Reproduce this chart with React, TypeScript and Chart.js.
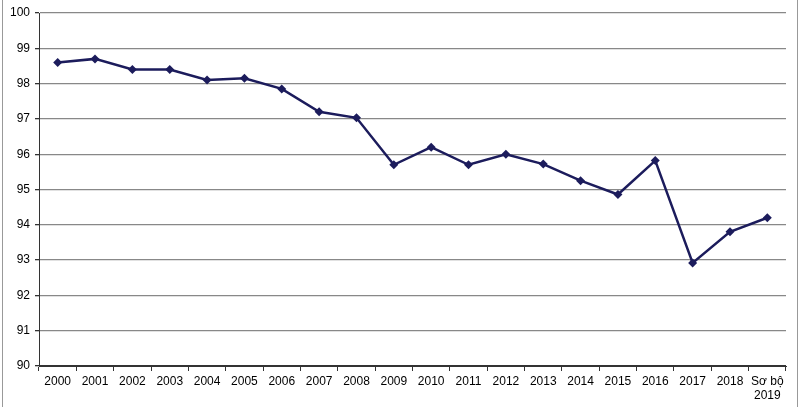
import React, { useEffect, useRef } from "react";
import { Chart, registerables } from "chart.js";

Chart.register(...registerables);

const categories: (string | string[])[] = [
  "2000", "2001", "2002", "2003", "2004", "2005", "2006", "2007", "2008", "2009",
  "2010", "2011", "2012", "2013", "2014", "2015", "2016", "2017", "2018", ["Sơ bộ", "2019"],
];
const values: number[] = [
  98.6, 98.7, 98.4, 98.4, 98.1, 98.15, 97.85, 97.2, 97.03, 95.7,
  96.2, 95.7, 96.0, 95.72, 95.25, 94.86, 95.82, 92.92, 93.8, 94.2,
];
const yMin = 90;
const yMax = 100;
const yStep = 1;

export default function App() {
  const ref = useRef<HTMLCanvasElement | null>(null);

  useEffect(() => {
    document.body.style.margin = "0";
    const ctx = ref.current!;
    const chart = new Chart(ctx, {
      type: "line",
      data: {
        labels: categories,
        datasets: [
          {
            data: values,
            borderColor: "#1c1c5c",
            backgroundColor: "#1c1c5c",
            borderWidth: 2.5,
            pointStyle: "rectRot",
            pointRadius: 4.5,
            pointHoverRadius: 4.5,
            pointBorderWidth: 0,
            tension: 0,
          },
        ],
      },
      options: {
        animation: false,
        responsive: false,
        maintainAspectRatio: false,
        layout: { padding: { left: 0, right: 14, top: 13, bottom: 0 } },
        plugins: { legend: { display: false }, tooltip: { enabled: false } },
        scales: {
          x: {
            offset: true,
            grid: {
              offset: true,
              drawOnChartArea: false,
              drawTicks: true,
              tickLength: 5,
              color: "#333",
            },
            border: { color: "#333", width: 1 },
            ticks: {
              color: "#000",
              font: { family: "'Liberation Sans', Arial", size: 12 },
              padding: 3,
              maxRotation: 0,
              autoSkip: false,
            },
            afterFit: (s: any) => {
              s.height = 41;
            },
          },
          y: {
            min: yMin,
            max: yMax,
            ticks: {
              stepSize: yStep,
              color: "#000",
              font: { family: "'Liberation Sans', Arial", size: 12 },
              padding: 5,
            },
            grid: {
              color: (c: any) => (c.tick && c.tick.value === yMin ? "#333" : "#888"),
              lineWidth: 1.3,
              tickLength: 4,
              tickColor: "#333",
            },
            border: { color: "#333", width: 1 },
            afterFit: (s: any) => {
              s.width = 39;
            },
          },
        },
      },
    });
    return () => chart.destroy();
  }, []);

  return (
    <div style={{ position: "absolute", left: 0, top: 0, width: 800, height: 407, background: "#fff" }}>
      <canvas ref={ref} width={800} height={407} style={{ display: "block", width: 800, height: 407 }} />
      <div style={{ position: "absolute", left: 2, top: 0, width: 1, height: 407, background: "#999" }} />
      <div style={{ position: "absolute", left: 797, top: 0, width: 1, height: 407, background: "#999" }} />
    </div>
  );
}
